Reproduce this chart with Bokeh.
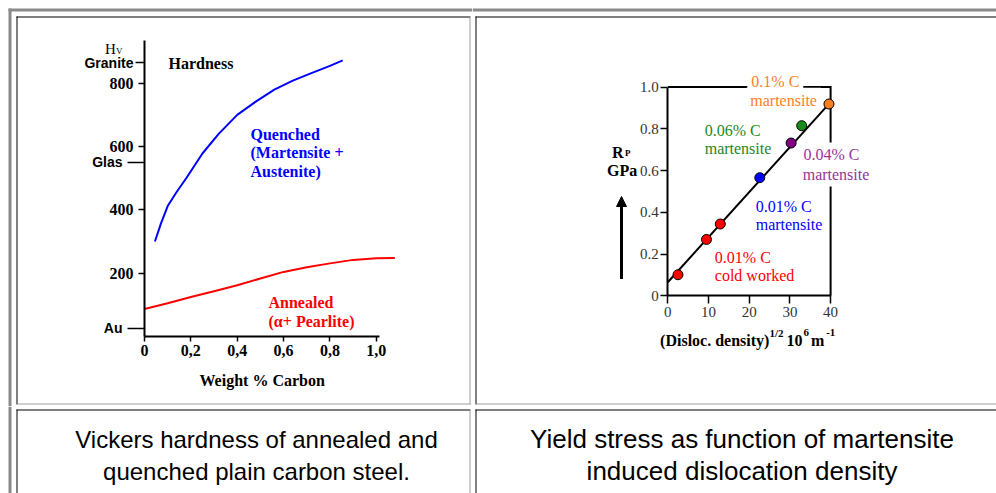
from bokeh.plotting import figure
from bokeh.layouts import column, row
from bokeh.models import Range1d, LinearAxis, FixedTicker, Label, Arrow, NormalHead
from bokeh.embed import file_html
from bokeh.resources import INLINE

# ---------------- data: chart 1 (Vickers hardness) ----------------
carbon_ticks = [0, 0.2, 0.4, 0.6, 0.8, 1.0]
carbon_tick_labels = ["0", "0,2", "0,4", "0,6", "0,8", "1,0"]
hv_ticks = [200, 400, 600, 800]
ref_names = ["Au", "Glas", "Granite"]
ref_hv = [26, 550, 865]

quenched_c = [0.045, 0.07, 0.10, 0.14, 0.18, 0.25, 0.32, 0.40, 0.48, 0.56, 0.64, 0.72, 0.80, 0.855]
quenched_hv = [300, 355, 412, 458, 500, 578, 640, 700, 742, 780, 808, 832, 855, 872]
annealed_c = [0, 0.1, 0.2, 0.3, 0.4, 0.5, 0.6, 0.7, 0.8, 0.9, 1.0, 1.08]
annealed_hv = [87, 105, 125, 143, 162, 183, 204, 219, 231, 242, 247, 248]

# ---------------- data: chart 2 (yield stress) ----------------
disloc = [2.5, 9.5, 12.9, 22.6, 30.3, 32.9, 39.6]
yield_gpa = [0.101, 0.270, 0.344, 0.566, 0.732, 0.815, 0.919]
point_colors = ["#FF0000", "#FF0000", "#FF0000", "#0000FF", "#800080", "#1A8A1A", "#FF7F1E"]
fit_disloc = [0, 39.6]
fit_gpa = [0.065, 0.92]
disloc_ticks = [0, 10, 20, 30, 40]
gpa_ticks = [0, 0.2, 0.4, 0.6, 0.8, 1.0]
gpa_tick_labels = ["0", "0.2", "0.4", "0.6", "0.8", "1.0"]
group_text = [("0.1% C", "martensite"), ("0.06% C", "martensite"), ("0.04% C", "martensite"),
              ("0.01% C", "martensite"), ("0.01% C", "cold worked")]
group_colors = ["#FF7F1E", "#1A8A1A", "#993399", "#0000FF", "#FF0000"]

captions = [["Vickers hardness of annealed and", "quenched plain carbon steel."],
            ["Yield stress as function of martensite", "induced dislocation density"]]

# ---------------- layout constants (page pixels) ----------------
SERIF = "Liberation Serif"
SANS = "Liberation Sans"
W_L, W_R, H_T, H_B = 472, 524, 406, 87
PX0, PY0 = 0, 0
OUTER_GRAY = "#8a8a8a"
CELL_GRAY = "#a0a0a0"


def make_panel(left, top, w, h, x_range=None, y_range=None):
    xr_px = Range1d(left, left + w)
    yr_px = Range1d(top + h, top)
    p = figure(width=w, height=h,
               x_range=x_range if x_range is not None else Range1d(left, left + w),
               y_range=y_range if y_range is not None else Range1d(top + h, top),
               x_axis_type=None, y_axis_type=None, tools="", toolbar_location=None,
               output_backend="svg", title=None, min_border=0)
    p.min_border_left = p.min_border_right = p.min_border_top = p.min_border_bottom = 0
    p.outline_line_color = None
    p.background_fill_color = "white"
    p.border_fill_color = "white"
    p.extra_x_ranges = {"px": xr_px}
    p.extra_y_ranges = {"px": yr_px}
    return p


def box(p, l, r, t, b, color):
    p.quad(left=[l], right=[r], top=[t], bottom=[b], fill_color=color, line_color=None,
           x_range_name="px", y_range_name="px")


def txt(p, x, y, s, size, color="black", font=SERIF, style="normal", align="left",
        baseline="alphabetic", bg=None, level=None):
    lab = Label(x=x, y=y, x_range_name="px", y_range_name="px", text=s, text_font=font,
                text_font_size=f"{size}px", text_font_style=style, text_color=color,
                text_align=align, text_baseline=baseline)
    if bg is not None:
        lab.background_fill_color = bg
        lab.padding = 4
    if level is not None:
        lab.level = level
    p.add_layout(lab)


def style_axis(ax, font, size, style, color, tick_out, standoff, line_width=2):
    ax.axis_line_width = line_width
    ax.major_tick_out = tick_out
    ax.major_tick_in = 0
    ax.minor_tick_out = 0
    ax.minor_tick_in = 0
    ax.major_tick_line_width = 1.5
    ax.major_label_standoff = standoff
    ax.major_label_text_font = font
    ax.major_label_text_font_size = f"{size}px"
    ax.major_label_text_font_style = style
    ax.major_label_text_color = color


# ================= chart A =================
A_x0, A_xs = 144.0, 231.8      # page x of 0 wt%, px per 1 wt%
A_y0, A_ys = 336.0, 0.3166     # page y of 0 HV, px per HV
A_ytop = 40.0
pA = make_panel(PX0, PY0, W_L, H_T,
                x_range=Range1d((PX0 - A_x0) / A_xs, (PX0 + W_L - A_x0) / A_xs),
                y_range=Range1d((A_y0 - (PY0 + H_T)) / A_ys, (A_y0 - PY0) / A_ys))

xa = LinearAxis(fixed_location=0, ticker=FixedTicker(ticks=carbon_ticks),
                major_label_overrides=dict(zip(carbon_ticks, carbon_tick_labels)),
                bounds=(0, 1.015))
style_axis(xa, SERIF, 16, "bold", "black", 5, 3)
pA.add_layout(xa, "below")

ya = LinearAxis(fixed_location=0, ticker=FixedTicker(ticks=hv_ticks),
                bounds=(0, (A_y0 - A_ytop) / A_ys))
style_axis(ya, SERIF, 16, "bold", "black", 6, 5)
pA.add_layout(ya, "left")

ya2 = LinearAxis(fixed_location=0, ticker=FixedTicker(ticks=ref_hv[:2]),
                 major_label_overrides=dict(zip(ref_hv[:2], ref_names[:2])))
style_axis(ya2, SANS, 14, "bold", "black", 17, 5)
ya2.axis_line_color = None
pA.add_layout(ya2, "left")

ya3 = LinearAxis(fixed_location=0, ticker=FixedTicker(ticks=ref_hv[2:]),
                 major_label_overrides=dict(zip(ref_hv[2:], ref_names[2:])))
style_axis(ya3, SANS, 14, "bold", "black", 9, 2)
ya3.axis_line_color = None
pA.add_layout(ya3, "left")

pA.line(quenched_c, quenched_hv, line_color="#0000FF", line_width=2)
pA.line(annealed_c, annealed_hv, line_color="#FF0000", line_width=2)

txt(pA, 104.5, 48.5, "H", 15)
txt(pA, 115.5, 50.5, "V", 9)
txt(pA, 168, 63.3, "Hardness", 16, style="bold")
for s, yy in zip(["Quenched", "(Martensite +", "Austenite)"], [134.3, 152.3, 170.5]):
    txt(pA, 250, yy, s, 16, color="#0000FF", style="bold")
for s, yy in zip(["Annealed", "(\u03b1+ Pearlite)"], [302.3, 320.7]):
    txt(pA, 268, yy, s, 16, color="#FF0000", style="bold")
txt(pA, 199, 380, "Weight % Carbon", 16, style="bold")

# borders
box(pA, 8, PX0 + W_L, 8, 11, OUTER_GRAY)
box(pA, 8, 11, 8, PY0 + H_T, OUTER_GRAY)
box(pA, 16, 470, 16, 17, "black")
box(pA, 16, 17, 16, 404, "black")
box(pA, 469, 470, 17, 404, CELL_GRAY)
box(pA, 17, 470, 403, 404, CELL_GRAY)

# ================= chart B =================
BX = PX0 + W_L
B_x0, B_xs = 667.3, 4.07
B_y0, B_ys = 295.3, 208.7
pB = make_panel(BX, PY0, W_R, H_T,
                x_range=Range1d((BX - B_x0) / B_xs, (BX + W_R - B_x0) / B_xs),
                y_range=Range1d((B_y0 - (PY0 + H_T)) / B_ys, (B_y0 - PY0) / B_ys))

x_max = disloc_ticks[-1]
y_max = gpa_ticks[-1]
xb = LinearAxis(fixed_location=0, ticker=FixedTicker(ticks=disloc_ticks), bounds=(0, x_max))
style_axis(xb, SERIF, 15, "normal", "#333333", 8, 3)
pB.add_layout(xb, "below")
yb = LinearAxis(fixed_location=0, ticker=FixedTicker(ticks=gpa_ticks),
                major_label_overrides=dict(zip(gpa_ticks, gpa_tick_labels)), bounds=(0, y_max))
style_axis(yb, SERIF, 15, "normal", "#333333", 7, 2)
pB.add_layout(yb, "left")

# frame top / right (masked by labels)
pB.line([0, x_max, x_max], [y_max, y_max, 0], line_color="black", line_width=2,
        line_join="miter", level="underlay")

label_pos = [((746.8, 80.5), (745.8, 99.7), True),
             ((704.2, 129.5), (704.2, 148.3), False),
             ((798.9, 154.4), (798.2, 173.5), True),
             ((755.2, 205.7), (755.2, 224.2), False),
             ((714.3, 256.7), (714.3, 274.5), False)]
for (l1, l2), col, (p1, p2, mask) in zip(group_text, group_colors, label_pos):
    bg = "white" if mask else None
    txt(pB, p1[0], p1[1], l1, 16, color=col, bg=bg, level="underlay")
    txt(pB, p2[0], p2[1], l2, 16, color=col, bg=bg, level="underlay")

pB.line(fit_disloc, fit_gpa, line_color="black", line_width=2)
pB.scatter(disloc, yield_gpa, size=10, fill_color=point_colors, line_color="black", line_width=1)

txt(pB, 611.6, 151.7, "R", 16, style="bold")
txt(pB, 624.4, 152.7, "P", 9, style="bold")
txt(pB, 606.6, 169.5, "GPa", 16, style="bold")
pB.add_layout(Arrow(end=NormalHead(size=10, fill_color="black", line_color="black"),
                    x_start=621, y_start=278.5, x_end=621, y_end=196,
                    x_range_name="px", y_range_name="px", line_width=3, line_color="black"))
for s, xx, yy, sz in [("(Disloc. density)", 659.6, 339.6, 16), ("1/2", 769, 332, 11),
                      ("10", 786, 339.6, 16), ("6", 803, 332, 11),
                      ("m", 810.6, 339.6, 16), ("-1", 825.7, 332, 11)]:
    txt(pB, xx, yy, s, sz, style="bold")

box(pB, BX, BX + W_R, 8, 11, OUTER_GRAY)
box(pB, 475, BX + W_R, 16, 17, "black")
box(pB, 475, 476, 16, 404, "black")
box(pB, 476, BX + W_R, 403, 404, CELL_GRAY)

# ================= captions =================
CY = PY0 + H_T
pC = make_panel(PX0, CY, W_L, H_B)
box(pC, 8, 11, CY, CY + H_B, OUTER_GRAY)
box(pC, 16, 470, 409, 410, "black")
box(pC, 16, 17, 409, CY + H_B, "black")
box(pC, 469, 470, 410, CY + H_B, CELL_GRAY)
for s, yy in zip(captions[0], [438.5, 470.5]):
    txt(pC, 256, yy, s, 24, font=SANS, align="center")

pD = make_panel(BX, CY, W_R, H_B)
box(pD, 475, BX + W_R, 409, 410, "black")
box(pD, 475, 476, 409, CY + H_B, "black")
for s, yy in zip(captions[1], [438.5, 470.5]):
    txt(pD, 741.5, yy, s, 26, font=SANS, align="center")

layout = column(row(pA, pB), row(pC, pD))
open("out.html", "w").write(file_html(layout, INLINE))
